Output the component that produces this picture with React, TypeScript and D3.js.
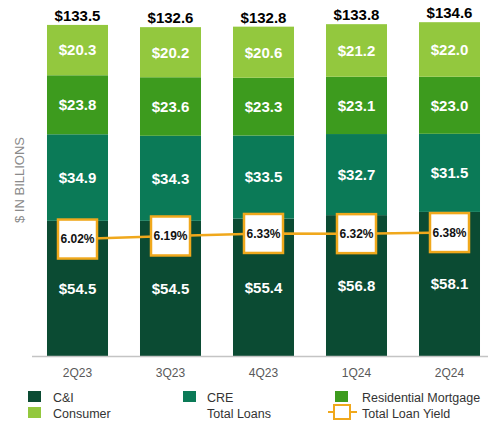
import React from 'react';
import * as d3 from 'd3';

const quarters = ['2Q23', '3Q23', '4Q23', '1Q24', '2Q24'];
const cni = [54.5, 54.5, 55.4, 56.8, 58.1];
const cre = [34.9, 34.3, 33.5, 32.7, 31.5];
const resMortgage = [23.8, 23.6, 23.3, 23.1, 23.0];
const consumer = [20.3, 20.2, 20.6, 21.2, 22.0];
const totalLoans = [133.5, 132.6, 132.8, 133.8, 134.6];
const loanYield = [6.02, 6.19, 6.33, 6.32, 6.38];

const seriesKeys = ['C&I', 'CRE', 'Residential Mortgage', 'Consumer'];
const seriesColors = ['#0b4b33', '#0b7a57', '#3d9b1e', '#93c83e'];
const yieldColor = '#f0a81c';

const W = 488;
const H = 426;
const font = 'Arial, "Liberation Sans", Helvetica, sans-serif';

const App: React.FC = () => {
  const x = d3.scaleBand<string>()
    .domain(quarters)
    .range([31, 496])
    .paddingInner(0.344)
    .paddingOuter(0.172);

  const y = d3.scaleLinear().domain([0, 140]).range([356, 356 - 140 * 2.48]);
  const y2 = d3.scaleLinear().domain([6.0, 6.4]).range([239.4, 232.2]);

  const table = quarters.map((q, i) => ({
    q,
    'C&I': cni[i],
    'CRE': cre[i],
    'Residential Mortgage': resMortgage[i],
    'Consumer': consumer[i],
  }));
  const stacked = d3.stack<any>().keys(seriesKeys)(table);

  const bw = x.bandwidth();
  const cx = (q: string) => (x(q) as number) + bw / 2;

  const line = d3.line<number>()
    .x((_, i) => cx(quarters[i]))
    .y(d => y2(d));

  const box = 39;

  return (
    <svg width={W} height={H} style={{ position: 'absolute', left: 0, top: 0, background: '#fff' }} fontFamily={font}>
      {/* y axis title */}
      <text transform="translate(24,180) rotate(-90)" textAnchor="middle" fontSize={13} fill="#8a8a8a">$ IN BILLIONS</text>

      {/* stacked bars */}
      {stacked.map((layer, li) => (
        <g key={layer.key}>
          {layer.map((d, i) => (
            <g key={i}>
              <rect x={x(quarters[i])} y={y(d[1])} width={bw} height={y(d[0]) - y(d[1])} fill={seriesColors[li]} />
              <text x={cx(quarters[i])} y={(y(d[0]) + y(d[1])) / 2} dy="0.36em" textAnchor="middle"
                fontSize={15} fontWeight="bold" fill="#fff">
                ${(d[1] - d[0]).toFixed(1)}
              </text>
            </g>
          ))}
        </g>
      ))}

      {/* totals */}
      {totalLoans.map((t, i) => (
        <text key={i} x={cx(quarters[i])} y={y(t) - 4} textAnchor="middle" fontSize={15} fontWeight="bold" fill="#000">
          ${t.toFixed(1)}
        </text>
      ))}

      {/* axis line */}
      <line x1={32} x2={488} y1={356.5} y2={356.5} stroke="#c4c4c4" strokeWidth={1.5} />
      {quarters.map(q => (
        <text key={q} x={cx(q)} y={377} textAnchor="middle" fontSize={12} fill="#595959">{q}</text>
      ))}

      {/* yield line */}
      <path d={line(loanYield) as string} fill="none" stroke={yieldColor} strokeWidth={2.5} />
      {loanYield.map((v, i) => (
        <g key={i}>
          <rect x={cx(quarters[i]) - box / 2} y={y2(v) - box / 2} width={box} height={box}
            fill="#fff" stroke={yieldColor} strokeWidth={2.5} />
          <text x={cx(quarters[i])} y={y2(v)} dy="0.36em" textAnchor="middle" fontSize={12} fontWeight="bold" fill="#111">
            {v.toFixed(2)}%
          </text>
        </g>
      ))}

      {/* legend */}
      <g fontSize={12.5} fill="#333">
        <rect x={28} y={391} width={13} height={11} fill={seriesColors[0]} />
        <text x={53} y={402}>C&amp;I</text>
        <rect x={28} y={407} width={13} height={11} fill={seriesColors[3]} />
        <text x={53} y={418}>Consumer</text>

        <rect x={183} y={391} width={13} height={11} fill={seriesColors[1]} />
        <text x={207} y={402}>CRE</text>
        <text x={207} y={418}>Total Loans</text>

        <rect x={335} y={391} width={13} height={11} fill={seriesColors[2]} />
        <text x={362} y={402}>Residential Mortgage</text>
        <line x1={328} x2={357} y1={412} y2={412} stroke={yieldColor} strokeWidth={2} />
        <rect x={334} y={405} width={16} height={14} fill="#fff" stroke={yieldColor} strokeWidth={2} />
        <text x={362} y={418}>Total Loan Yield</text>
      </g>
    </svg>
  );
};

export default App;
